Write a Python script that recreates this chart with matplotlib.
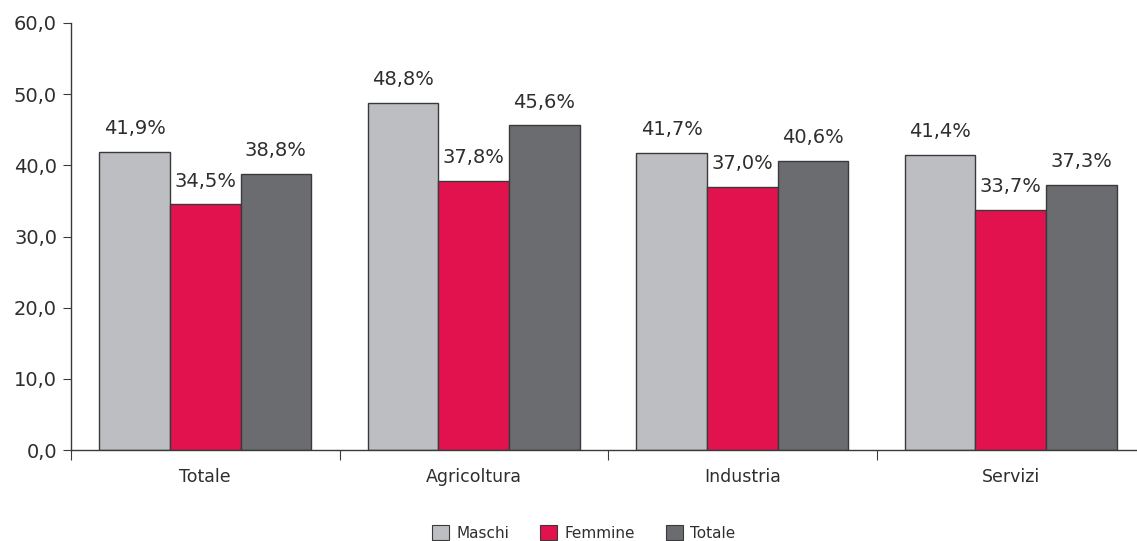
import numpy as np
from matplotlib import pyplot as plt
from matplotlib.patches import Patch

categories = ['Totale', 'Agricoltura', 'Industria', 'Servizi']
series_names = ['Maschi', 'Femmine', 'Totale']
maschi = [41.9, 48.8, 41.7, 41.4]
femmine = [34.5, 37.8, 37.0, 33.7]
totale = [38.8, 45.6, 40.6, 37.3]
yticks = [0, 10, 20, 30, 40, 50, 60]

colors = ['#bdbec2', '#e2124f', '#6b6c70']
edge = '#3a3a3a'
txt = '#2e2e2e'


def fmt(v, pct=True):
    s = ('%.1f' % v).replace('.', ',')
    return s + '%' if pct else s


fig = plt.figure(figsize=(11.37, 5.41), dpi=100)
ax = fig.add_axes([71/1137, 91/541, 1074/1137, 427/541])

x = np.arange(len(categories))
w = 0.263
for k, vals in enumerate([maschi, femmine, totale]):
    pos = x + (k - 1) * w
    ax.bar(pos, vals, width=w, color=colors[k], edgecolor=edge, linewidth=1.0, zorder=2)
    for p, v in zip(pos, vals):
        ax.annotate(fmt(v), (p, v), xytext=(0, 10), textcoords='offset points',
                    ha='center', va='bottom', fontsize=14, color=txt)

ax.set_xlim(-0.5, 3.5)
ax.set_ylim(0, 60)
ax.set_yticks(yticks)
ax.set_yticklabels([fmt(t, False) for t in yticks], fontsize=14, color=txt)
ax.set_xticks(np.arange(-0.5, 4, 1))
ax.set_xticklabels([])
ax.set_xticks(x, minor=True)
ax.set_xticklabels(categories, minor=True, fontsize=12.5, color=txt)
ax.tick_params(axis='x', which='minor', length=0, pad=13)
ax.tick_params(axis='x', which='major', length=7, direction='out', color=edge)
ax.tick_params(axis='y', length=6, direction='out', color=edge, pad=4)

for s in ['top', 'right']:
    ax.spines[s].set_visible(False)
for s in ['left', 'bottom']:
    ax.spines[s].set_color(edge)
    ax.spines[s].set_linewidth(1.0)

handles = [Patch(facecolor=c, edgecolor=edge, linewidth=0.8) for c in colors]
fig.legend(handles, series_names, loc='center', bbox_to_anchor=(584/1137, 1 - 533/541),
           ncol=3, frameon=False, handlelength=1.1, handleheight=1.1,
           handletextpad=0.5, columnspacing=2.0, labelcolor=txt,
           prop={'family': 'DejaVu Sans', 'size': 11})

fig.savefig('out.png', dpi=100)
